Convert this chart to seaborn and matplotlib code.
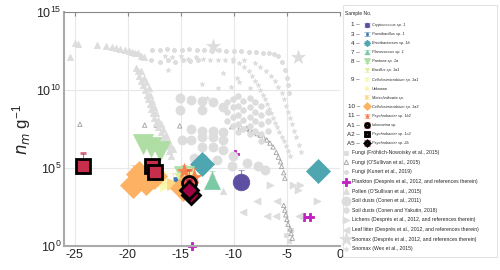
import numpy as np
import matplotlib
matplotlib.use("Agg")
import matplotlib.pyplot as plt
from matplotlib.patches import Rectangle
from matplotlib.ticker import FixedLocator
import seaborn as sns

# ---- sample data (freezing temperature in degC, log10 of n_m in g^-1) ----
sample_names = ["Cryptococcus sp. 1", "Paenibacillus sp. 1", "Brevibacterium sp. 1b",
                "Planococcus sp. 1", "Pantoea sp. 1a", "Bacillus sp. 1a1",
                "Cellulosimicrobium sp. 1a1", "Unknown", "Metschnikowia sp.",
                "Cellulosimicrobium sp. 1a3", "Psychrobacter sp. 1b2", "Idiomarina sp.",
                "Psychrobacter sp. 1c2", "Psychrobacter sp. 2b"]
sample_numbers = ["1", "3", "4", "7", "8", "", "9", "", "", "10", "11", "A1", "A2", "A5"]

pt_sample = [0, 1, 1, 2, 2, 3, 4, 4, 4, 4, 5, 6, 6, 7, 8, 9, 9, 9, 9, 9,
             10, 10, 10, 11, 12, 12, 12, 13, 13]
pt_temp = [-9.3, -15.3, -14.6, -13.0, -2.1, -12.1, -18.6, -17.8, -17.0, -14.7, -15.0,
           -16.3, -14.0, -16.6, -15.7, -19.5, -18.9, -18.3, -17.5, -14.8,
           -13.8, -14.7, -14.4, -14.2, -24.2, -17.7, -17.4, -14.0, -14.2]
pt_logn = [4.1, 4.1, 4.35, 5.25, 4.8, 4.15, 6.55, 6.35, 6.1, 4.5, 4.3,
           4.0, 4.6, 4.15, 4.0, 3.9, 4.6, 4.1, 4.5, 3.7,
           4.4, 4.8, 4.05, 4.05, 5.1, 5.1, 4.75, 3.25, 3.6]
pt_logn_hi = [4.85, 4.6, 4.9, 5.75, 5.4, 4.8, 6.8, 6.6, 6.4, 4.8, 4.9,
              4.7, 5.0, 4.8, 4.7, 5.2, 5.2, 5.1, 5.0, 4.6,
              5.0, 5.2, 4.7, 4.9, 5.95, 5.5, 5.2, 3.9, 4.2]
pt_logn_lo = [4.1, 4.1, 4.35, 5.25, 4.8, 4.0, 6.55, 6.35, 6.1, 4.5, 4.3,
              4.0, 4.6, 4.15, 4.0, 3.9, 4.6, 4.1, 4.5, 3.7,
              4.4, 4.8, 4.05, 4.05, 4.7, 4.8, 4.6, 3.25, 3.6]

# ---- literature data (grey background) ----
fungi_fn_x = [-5.1, -4.8, -4.6]
fungi_fn_lg = [0.7, 0.3, 1.0]

fungi_os_x = [-24.5, -18.4, -17.3, -15.1, -10.2, -9.4, -8.8, -8.5, -8.2, -7.8, -7.5, -7.2, -6.9,
              -6.6, -6.3, -6.0, -5.8, -5.6, -5.5, -5.3, -5.2,
              -5.3, -5.2, -5.1, -5.0, -4.9, -4.7, -4.6, -4.5]
fungi_os_lg = [7.8, 7.75, 7.75, 7.7, 7.65, 7.63, 7.55, 7.45, 7.3, 7.2, 7.1, 6.95, 6.8,
               6.6, 6.35, 6.0, 5.7, 5.4, 5.1, 4.7, 4.35,
               2.6, 2.3, 2.0, 1.7, 1.4, 1.1, 0.8, 0.5]

fungi_ku_x = [-17.7, -17.0, -16.3, -15.6, -14.9, -14.2, -13.5, -12.8, -12.1, -11.4, -10.7, -10.0,
              -9.3, -8.6, -7.9, -7.3, -6.7, -6.2, -5.8, -5.5, -5.2, -5.0, -4.9, -4.8,
              -17.8, -17.0, -16.2, -15.5, -14.8, -14.1, -13.4]
fungi_ku_lg = [12.55, 12.55, 12.6, 12.55, 12.55, 12.6, 12.55, 12.55, 12.5, 12.55, 12.5, 12.5,
               12.5, 12.45, 12.45, 12.4, 12.4, 12.3, 12.2, 11.8, 11.3, 10.8, 10.3, 9.8,
               11.9, 11.8, 11.95, 11.8, 11.9, 11.85, 11.9]

plankton_x = [-9.9, -13.9, -3.4, -2.8]
plankton_lg = [5.9, 0.0, 1.85, 1.85]

pollen_x = [-25.0, -24.7, -22.9, -22.0, -21.5, -21.1, -20.7, -20.3, -19.9, -19.6, -19.3, -19.0,
            -18.7, -18.5, -25.4,
            -19.2, -19.0, -18.9, -18.7, -18.6, -18.4, -18.2, -18.1, -17.9, -17.8, -17.6, -17.5,
            -17.3, -17.1, -16.9, -16.7, -16.5, -16.3, -16.1, -15.9,
            -18.7, -18.5, -18.3, -18.0, -17.9, -17.7, -17.5, -17.3, -17.1, -16.9, -16.7, -16.4,
            -16.2, -16.0, -15.7, -11.0, -12.1]
pollen_lg = [13.0, 12.95, 12.9, 12.8, 12.75, 12.7, 12.6, 12.55, 12.5, 12.45, 12.4, 12.35,
             12.2, 12.1, 12.1,
             11.4, 11.2, 10.9, 10.6, 10.3, 10.0, 9.7, 9.4, 9.1, 8.8, 8.5, 8.2,
             7.9, 7.6, 7.3, 7.0, 6.7, 6.4, 6.1, 5.8,
             11.2, 10.8, 10.5, 10.1, 9.7, 9.3, 8.9, 8.5, 8.1, 7.8, 7.5, 7.1,
             6.8, 6.5, 6.2, 3.5, 4.6]

soil_c11_x = [-15.1, -15.1, -14.0, -13.0, -13.0, -12.0, -11.0,
              -14.0, -13.0, -12.0, -11.0,
              -14.9, -14.0, -13.0, -12.0, -11.0,
              -13.0, -12.0, -11.0, -10.1,
              -13.8, -12.9, -11.6, -10.2, -8.8, -7.7, -7.1]
soil_c11_lg = [9.5, 8.7, 9.36, 9.3, 8.7, 9.2, 8.9,
               7.5, 7.4, 7.4, 7.3,
               6.8, 6.8, 7.0, 7.0, 6.8,
               6.35, 6.35, 6.15, 5.8,
               5.65, 5.6, 5.5, 5.1, 5.3, 5.1, 4.9]

soil_cy_x = [-10.6, -10.6, -10.6, -10.1, -10.1, -10.1, -10.1, -9.6, -9.6, -9.6, -9.6, -9.6,
             -9.1, -9.1, -9.1, -9.1, -8.5, -8.5, -8.5, -8.5, -8.5, -8.0, -8.0, -8.0, -8.0,
             -7.4, -7.4, -7.4, -7.4, -7.4, -6.8, -6.8, -6.8]
soil_cy_lg = [9.2, 8.6, 8.0, 9.4, 8.9, 8.3, 7.7, 9.6, 9.0, 8.4, 7.8, 7.3,
              9.3, 8.7, 8.1, 7.5, 9.5, 8.9, 8.3, 7.7, 7.2, 9.2, 8.6, 8.0, 7.4,
              9.0, 8.4, 7.8, 7.2, 6.7, 8.6, 8.0, 7.4]

lichen_x = [-6.6, -4.4, -3.8, -4.0, -2.2]
lichen_lg = [3.9, 3.9, 3.9, 3.6, 2.9]

leaf_x = [-9.1, -6.9, -6.0, -5.9, -7.8, -3.9]
leaf_lg = [2.2, 1.9, 1.9, 2.9, 2.9, 1.9]

snomax_d_x = [-12.0, -3.95]
snomax_d_lg = [12.8, 12.1]

snomax_w_x = [-16.5, -15.8, -15.0, -14.3, -13.6, -12.9, -12.2, -11.5, -10.8, -10.1, -9.5, -9.0,
              -8.6, -8.3, -8.0, -7.7, -7.5, -7.3, -7.1, -6.9, -6.7, -6.5, -6.3, -6.1, -5.9,
              -5.7, -5.5, -5.3, -5.1, -4.9, -4.7,
              -10.1, -9.0, -8.0, -7.5, -7.0, -6.5, -6.1, -5.8, -5.5, -5.3, -5.1, -4.9, -4.7,
              -4.5, -4.3, -4.1, -3.9, -3.7,
              -16.2, -13.0, -11.5, -10.3, -9.5, -8.5, -12.5, -11.0, -9.7]
snomax_w_lg = [12.2, 12.1, 12.15, 12.0, 12.1, 12.0, 11.95, 11.9, 11.9, 11.85, 11.7, 11.5,
               11.2, 10.9, 10.6, 10.3, 10.0, 9.7, 9.4, 9.1, 8.8, 8.5, 8.2, 7.9, 7.6,
               7.3, 7.0, 6.7, 6.4, 6.1, 5.8,
               12.0, 11.9, 11.7, 11.5, 11.2, 10.9, 10.6, 10.2, 9.8, 9.4, 9.0, 8.6, 8.2,
               7.8, 7.4, 7.0, 6.5, 6.0,
               11.3, 10.4, 10.1, 10.2, 10.5, 10.1, 9.5, 11.1, 10.8]


def main():
    sns.set_style("white")
    plt.rcParams["font.family"] = ["Liberation Sans", "DejaVu Sans"]
    plt.rcParams["axes.unicode_minus"] = False
    plt.rcParams["mathtext.default"] = "regular"

    fig = plt.figure(figsize=(5, 2.7), dpi=100)
    ax = fig.add_axes([64 / 500, 24 / 270, 276 / 500, 234 / 270])

    grey = "#dddddd"
    lit = [
        (fungi_fn_x, fungi_fn_lg, "Fungi (Fröhlich-Nowoisky et al., 2015)", "s", 12, grey, grey),
        (fungi_os_x, fungi_os_lg, "Fungi (O'Sullivan et al., 2015)", "^", 10, "none", "#a0a0a0"),
        (fungi_ku_x, fungi_ku_lg, "Fungi (Kunert et al., 2019)", "P", 10, grey, grey),
        (plankton_x, plankton_lg, "Plankton (Després et al., 2012, and references therein)", "P", 28,
         "#c020c0", "#c020c0"),
        (pollen_x, pollen_lg, "Pollen (O'Sullivan et al., 2015)", "^", 20, grey, grey),
        (soil_c11_x, soil_c11_lg, "Soil dusts (Conen et al., 2011)", "o", 42, grey, grey),
        (soil_cy_x, soil_cy_lg, "Soil dusts (Conen and Yakutin, 2018)", "o", 16, grey, grey),
        (lichen_x, lichen_lg, "Lichens (Després et al., 2012, and references therein)", ">", 24, grey, grey),
        (leaf_x, leaf_lg, "Leaf litter (Després et al., 2012, and references therein)", "<", 24, grey, grey),
        (snomax_d_x, snomax_d_lg, "Snomax (Després et al., 2012, and references therein)", "*", 100, grey, grey),
        (snomax_w_x, snomax_w_lg, "Snomax (Wex et al., 2015)", "*", 12, grey, grey),
    ]
    lit_handles = []
    for xs, lg, label, mk, size, fc, ec in lit:
        sns.scatterplot(x=xs, y=10.0 ** np.array(lg), marker=mk, s=size, facecolor=fc,
                        edgecolor=ec, linewidth=0.6, ax=ax, zorder=2, legend=False)
        coll = ax.collections[-1]
        coll.set_label(label)
        if label.startswith("Plankton"):
            coll.set_clip_on(False)
        lit_handles.append(coll)

    # samples with error bars
    cmap = sns.color_palette("Spectral_r", as_cmap=True)
    colors = [cmap(v)[:3] for v in np.linspace(0, 1, len(sample_names))]
    markers = ["o", "s", "D", "^", "v", "v", ">", ">", ">", "D", "*", "o", "s", "D"]
    msizes = [12, 7, 12, 12, 14, 9, 10, 9, 9, 13, 11, 10, 10, 9]
    edged = [False] * 11 + [True, True, True]
    pt_sample_a = np.array(pt_sample)
    x_a = np.array(pt_temp)
    n_a = 10.0 ** np.array(pt_logn)
    hi_a = 10.0 ** np.array(pt_logn_hi)
    lo_a = 10.0 ** np.array(pt_logn_lo)
    sample_handles = []
    for i, name in enumerate(sample_names):
        m = pt_sample_a == i
        col = colors[i]
        cont = ax.errorbar(x_a[m], n_a[m], yerr=[n_a[m] - lo_a[m], hi_a[m] - n_a[m]],
                           fmt=markers[i], ms=msizes[i], color=col,
                           mec="black" if edged[i] else col, mew=2 if edged[i] else 0.5,
                           ecolor=(*col, 0.7), elinewidth=0.8, capsize=2, capthick=0.8,
                           label=name, zorder=4 + i * 0.1)
        sample_handles.append(cont)

    ax.set_xlim(-26, 0)
    ax.set_yscale("log")
    ax.set_ylim(1, 1e15)
    ax.set_xticks([-25, -20, -15, -10, -5, 0])
    ax.set_yticks([1, 1e5, 1e10, 1e15])
    ax.yaxis.set_minor_locator(FixedLocator(10.0 ** np.arange(0, 16)))
    ax.yaxis.set_minor_formatter(plt.NullFormatter())
    ax.tick_params(which="major", direction="in", top=True, length=3, width=0.8,
                   color="#888888", labelsize=9, pad=2)
    ax.tick_params(which="minor", direction="in", length=2, width=0.6, color="#888888")
    ax.grid(True, which="major", color="#e8e8e8", lw=0.8)
    ax.set_axisbelow(True)
    ax.spines["right"].set_visible(False)
    for s in ["left", "bottom"]:
        ax.spines[s].set_color("#aaaaaa")
        ax.spines[s].set_linewidth(1.5)
    ax.spines["top"].set_color("#888888")
    ax.spines["top"].set_linewidth(0.8)
    ax.set_ylabel(r"$\mathit{n}_{\mathit{m}}$ g$^{-1}$", fontsize=12, labelpad=2)
    ax.set_xlabel("")

    # legend box
    fig.patches.append(Rectangle((343 / 500, 13 / 270), 154 / 500, 252 / 270,
                                 transform=fig.transFigure, fill=False, ec="#e3e3e3", lw=0.8))
    fig.text(345 / 500, 1 - 14 / 270, "Sample No.", fontsize=3.6, va="center", ha="left")

    leg1 = fig.legend(sample_handles, sample_names, loc="upper left",
                      bbox_to_anchor=(364 / 500, 1 - 23 / 270), bbox_transform=fig.transFigure,
                      frameon=False, fontsize=2.8, markerscale=0.28, handlelength=1.5,
                      handletextpad=0.6, labelspacing=1.31, borderpad=0, borderaxespad=0)
    for t in leg1.get_texts():
        if t.get_text() != "Unknown":
            t.set_fontstyle("italic")
    # thinner marker edges in the small legend handles
    for h in leg1.legend_handles:
        if hasattr(h, "set_markeredgewidth"):
            h.set_markeredgewidth(min(h.get_markeredgewidth(), 0.8))

    fig.legend(lit_handles, [h.get_label() for h in lit_handles], loc="upper left",
               bbox_to_anchor=(343 / 500, 1 - 150 / 270), bbox_transform=fig.transFigure,
               frameon=False, fontsize=3.7, handlelength=1.3, handletextpad=0.5,
               labelspacing=0.9, borderpad=0, borderaxespad=0, scatterpoints=1)

    # sample numbers next to the legend entries
    fig.canvas.draw()
    renderer = fig.canvas.get_renderer()
    for t, num in zip(leg1.get_texts(), sample_numbers):
        if not num:
            continue
        bb = t.get_window_extent(renderer)
        yc = (bb.y0 + bb.y1) / 2
        fig.text(360 / 500, yc / 270, num + " \u2013", fontsize=4.5, ha="right", va="center")

    fig.savefig("out.png", dpi=100)
    plt.close(fig)


if __name__ == "__main__":
    main()
